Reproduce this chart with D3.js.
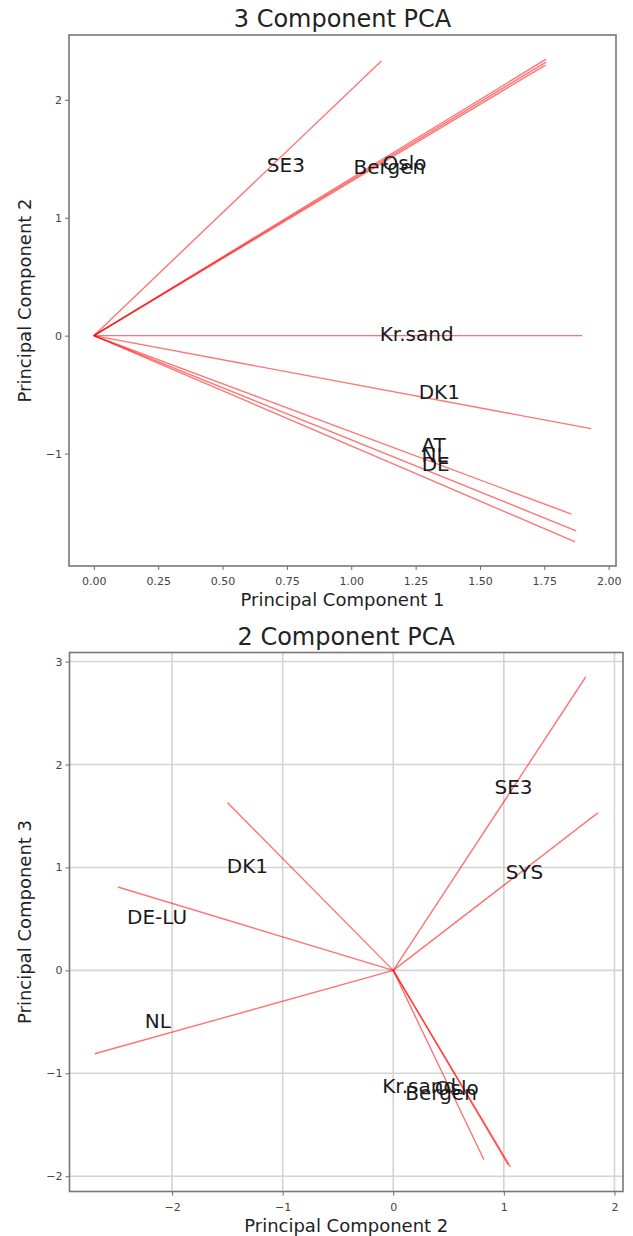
<!DOCTYPE html>
<html>
<head>
<meta charset="utf-8">
<script src="https://cdn.jsdelivr.net/npm/d3@7"></script>
<style>
  body { margin: 0; background: #fff; }
  svg text { font-family: "DejaVu Sans", sans-serif; }
</style>
</head>
<body>
<div id="chart"></div>
<script>
// ---- data ----
// 3 component PCA: loading vectors (PC1, PC2), drawn from the origin
var top_pc1 = [1.117, 1.757, 1.757, 1.755, 1.898, 1.932, 1.855, 1.874, 1.870];
var top_pc2 = [2.33, 2.345, 2.32, 2.295, 0.0, -0.789, -1.513, -1.656, -1.749];
// labels of the top chart (centre of the text, data units)
var top_labels = ["SE3", "Oslo", "Bergen", "Kr.sand", "DK1", "AT", "NL", "DE"];
var top_lab_x = [0.746, 1.207, 1.148, 1.254, 1.342, 1.320, 1.324, 1.328];
var top_lab_y = [1.45, 1.465, 1.428, 0.01, -0.479, -0.93, -1.014, -1.085];
var top_xticks = [0, 0.25, 0.5, 0.75, 1.0, 1.25, 1.5, 1.75, 2.0];
var top_yticks = [-1, 0, 1, 2];

// 2 component PCA: loading vectors (PC2, PC3)
var bot_pc2 = [1.74, 1.85, -1.50, -2.49, -2.70, 0.82, 1.04, 1.06];
var bot_pc3 = [2.85, 1.53, 1.63, 0.81, -0.81, -1.84, -1.89, -1.91];
var bot_labels = ["SE3", "SYS", "DK1", "DE-LU", "NL", "Kr.sand", "Oslo", "Bergen"];
var bot_lab_x = [1.088, 1.187, -1.319, -2.136, -2.128, 0.234, 0.575, 0.432];
var bot_lab_y = [1.786, 0.958, 1.013, 0.519, -0.494, -1.127, -1.14, -1.19];
var bot_xticks = [-2, -1, 0, 1, 2];
var bot_yticks = [-2, -1, 0, 1, 2, 3];

var W = 633, H = 1236;

var svg = d3.select("#chart")
  .append("svg")
    .attr("width", W)
    .attr("height", H);

// pad the extent of the data (and origin) by 5% like matplotlib does
function padded(vals) {
  var ext = d3.extent(vals.concat([0]));
  var m = (ext[1] - ext[0]) * 0.05;
  return [ext[0] - m, ext[1] + m];
}

function drawPanel(opt) {
  var x = d3.scaleLinear().domain(padded(opt.xs)).range([opt.left, opt.right]);
  var y = d3.scaleLinear().domain(padded(opt.ys)).range([opt.bottom, opt.top]);
  var g = svg.append("g");

  // grid (only on the second chart)
  if (opt.grid) {
    g.selectAll("gx").data(opt.xticks).enter().append("line")
      .attr("x1", d => x(d)).attr("x2", d => x(d))
      .attr("y1", opt.top).attr("y2", opt.bottom)
      .attr("stroke", "#d4d4d4").attr("stroke-width", 1.6);
    g.selectAll("gy").data(opt.yticks).enter().append("line")
      .attr("y1", d => y(d)).attr("y2", d => y(d))
      .attr("x1", opt.left).attr("x2", opt.right)
      .attr("stroke", "#d4d4d4").attr("stroke-width", 1.6);
  }

  // axes
  var xAxis = g.append("g")
    .attr("transform", "translate(0," + opt.bottom + ")")
    .call(d3.axisBottom(x).tickValues(opt.xticks).tickFormat(d3.format(opt.xfmt)).tickSize(4).tickSizeOuter(0));
  var yAxis = g.append("g")
    .attr("transform", "translate(" + opt.left + ",0)")
    .call(d3.axisLeft(y).tickValues(opt.yticks).tickFormat(d3.format("d")).tickSize(4).tickSizeOuter(0));
  [xAxis, yAxis].forEach(function(a) {
    a.select(".domain").remove();
    a.selectAll("line").attr("stroke", "#666");
    a.selectAll("text")
      .attr("fill", "#444")
      .style("font-size", "11px")
      .style("font-family", "DejaVu Sans, sans-serif");
  });
  xAxis.selectAll("text").attr("dy", "1.1em");

  // frame
  g.append("rect")
    .attr("x", opt.left).attr("y", opt.top)
    .attr("width", opt.right - opt.left).attr("height", opt.bottom - opt.top)
    .attr("fill", "none").attr("stroke", "#777").attr("stroke-width", 1.6);

  // loading vectors
  g.selectAll("vec").data(opt.xs).enter().append("line")
    .attr("x1", x(0)).attr("y1", y(0))
    .attr("x2", d => x(d))
    .attr("y2", (d, i) => y(opt.ys[i]))
    .attr("stroke", "red")
    .attr("stroke-opacity", 0.55)
    .attr("stroke-width", 1.4);

  // variable names
  g.selectAll("lab").data(opt.labels).enter().append("text")
    .attr("x", (d, i) => x(opt.lx[i]))
    .attr("y", (d, i) => y(opt.ly[i]))
    .attr("text-anchor", "middle")
    .attr("dominant-baseline", "central")
    .attr("fill", "#1a1a1a")
    .style("font-size", "20px")
    .text(d => d);

  // title and axis labels
  var cx = (opt.left + opt.right) / 2;
  g.append("text")
    .attr("x", cx).attr("y", opt.top - 8)
    .attr("text-anchor", "middle")
    .attr("fill", "#222")
    .style("font-size", "24px")
    .text(opt.title);
  g.append("text")
    .attr("x", cx).attr("y", opt.bottom + 40)
    .attr("text-anchor", "middle")
    .attr("fill", "#222")
    .style("font-size", "18px")
    .text(opt.xlabel);
  g.append("text")
    .attr("transform", "translate(31," + ((opt.top + opt.bottom) / 2) + ") rotate(-90)")
    .attr("text-anchor", "middle")
    .attr("fill", "#222")
    .style("font-size", "18px")
    .text(opt.ylabel);
}

drawPanel({
  left: 69, right: 616, top: 35, bottom: 566,
  xs: top_pc1, ys: top_pc2,
  labels: top_labels, lx: top_lab_x, ly: top_lab_y,
  xticks: top_xticks, yticks: top_yticks, xfmt: ".2f",
  grid: false,
  title: "3 Component PCA",
  xlabel: "Principal Component 1",
  ylabel: "Principal Component 2"
});

drawPanel({
  left: 69.5, right: 623, top: 652.5, bottom: 1191.5,
  xs: bot_pc2, ys: bot_pc3,
  labels: bot_labels, lx: bot_lab_x, ly: bot_lab_y,
  xticks: bot_xticks, yticks: bot_yticks, xfmt: "d",
  grid: true,
  title: "2 Component PCA",
  xlabel: "Principal Component 2",
  ylabel: "Principal Component 3"
});
</script>
</body>
</html>
